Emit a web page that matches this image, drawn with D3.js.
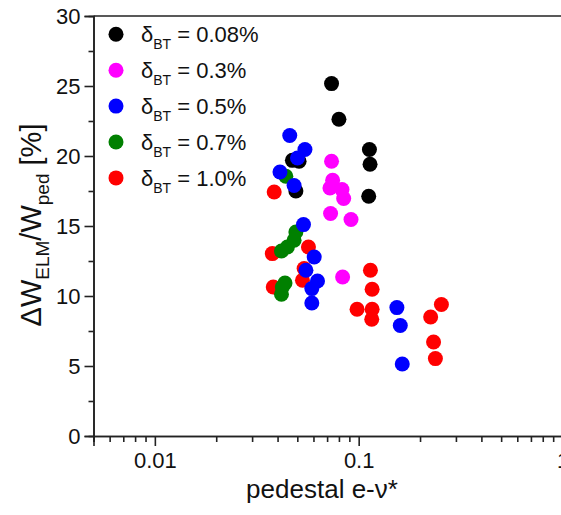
<!DOCTYPE html>
<html>
<head>
<meta charset="utf-8">
<script src="https://cdn.jsdelivr.net/npm/d3@7"></script>
<style>
  html, body { margin: 0; padding: 0; background: #fff; }
  svg { display: block; font-family: "Liberation Sans", Arial, sans-serif; }
</style>
</head>
<body>
<svg id="chart" width="561" height="515"></svg>
<script>
// ---- data ----
const seriesNames = ["0.08%", "0.3%", "0.5%", "0.7%", "1.0%"];
const seriesColors = ["#000000", "#ff00ff", "#0000ff", "#008000", "#ff0000"];

const x008 = [0.0736, 0.080, 0.1129, 0.1137, 0.112, 0.0473, 0.051, 0.0492];
const y008 = [25.17, 22.62, 20.46, 19.41, 17.12, 19.69, 19.62, 17.5];

const x03 = [0.0736, 0.0745, 0.0723, 0.0828, 0.0844, 0.0728, 0.0917, 0.0834];
const y03 = [19.62, 18.26, 17.71, 17.6, 16.96, 15.89, 15.46, 11.36];

const x05 = [0.0459, 0.0545, 0.0501, 0.0411, 0.0482, 0.0536, 0.0605, 0.0551, 0.0628, 0.0589, 0.0589, 0.154, 0.160, 0.1636];
const y05 = [21.46, 20.46, 19.86, 18.86, 17.89, 15.1, 12.79, 11.84, 11.07, 10.53, 9.5, 9.17, 7.89, 5.14];

const x07 = [0.0439, 0.0492, 0.0482, 0.0447, 0.0418, 0.0435, 0.0422, 0.0418];
const y07 = [18.55, 14.57, 13.98, 13.5, 13.21, 10.93, 10.64, 10.12];

const x10 = [0.0385, 0.0377, 0.0567, 0.054, 0.053, 0.0381, 0.1142, 0.1164, 0.2546, 0.2255, 0.233, 0.2379, 0.0982, 0.1164, 0.1159];
const y10 = [17.43, 13.03, 13.5, 11.96, 11.12, 10.64, 11.84, 10.48, 9.39, 8.5, 6.71, 5.53, 9.05, 9.05, 8.34];

const xMajorTicks = [0.01, 0.1, 1];
const xTickLabels = ["0.01", "0.1", "1"];
const yMajorTicks = [0, 5, 10, 15, 20, 25, 30];

const seriesX = [x008, x03, x05, x07, x10];
const seriesY = [y008, y03, y05, y07, y10];
// drawing order (bottom to top)
const drawOrder = [4, 3, 1, 0, 2];

// ---- layout ----
const svg = d3.select("#chart");
const mLeft = 93.5, mRight = 562.5, mTop = 16, mBottom = 436;
const x = d3.scaleLog().domain([0.005, 1]).range([mLeft, mRight]);
const y = d3.scaleLinear().domain([0, 30]).range([mBottom, mTop]);
const axisColor = "#222";

// minor x ticks
const xMinor = [];
[0.001, 0.01, 0.1].forEach(d => { for (let k = 2; k <= 9; k++) { const v = d * k; if (v >= 0.005 && v < 1) xMinor.push(v); } });
const yMinor = d3.range(2.5, 30, 5);

// x axis
const gx = svg.append("g").attr("transform", `translate(0,${mBottom})`);
gx.call(d3.axisBottom(x).tickValues(xMinor).tickSize(6).tickFormat(""));
gx.append("g").call(d3.axisBottom(x).tickValues(xMajorTicks).tickSize(10).tickPadding(6)
  .tickFormat((d, i) => xTickLabels[i]));
gx.selectAll(".domain").attr("stroke", axisColor).attr("stroke-width", 1.6);
gx.selectAll(".tick line").attr("stroke", axisColor).attr("stroke-width", 1.6);
gx.selectAll(".tick text").attr("font-size", 22).attr("fill", "#111")
  .attr("font-family", "Liberation Sans, Arial, sans-serif");

// y axis
const gy = svg.append("g").attr("transform", `translate(${mLeft},0)`);
gy.call(d3.axisLeft(y).tickValues(yMinor).tickSize(5).tickFormat(""));
gy.append("g").call(d3.axisLeft(y).tickValues(yMajorTicks).tickSize(9).tickPadding(4).tickFormat(d3.format("d")));
gy.selectAll(".domain").attr("stroke", axisColor).attr("stroke-width", 1.6);
gy.selectAll(".tick line").attr("stroke", axisColor).attr("stroke-width", 1.6);
gy.selectAll(".tick text").attr("font-size", 22).attr("fill", "#111")
  .attr("font-family", "Liberation Sans, Arial, sans-serif");

// top spine
svg.append("line").attr("x1", mLeft).attr("x2", mRight).attr("y1", mTop).attr("y2", mTop)
  .attr("stroke", axisColor).attr("stroke-width", 1.6);

// points
drawOrder.forEach(si => {
  const pts = seriesX[si].map((v, i) => [v, seriesY[si][i]]);
  svg.append("g").selectAll("circle").data(pts).join("circle")
    .attr("cx", d => x(d[0])).attr("cy", d => y(d[1])).attr("r", 7.5)
    .attr("fill", seriesColors[si]);
});

// legend
const lg = svg.append("g");
seriesNames.forEach((name, i) => {
  const cy = 34.3 + i * 35.9;
  lg.append("circle").attr("cx", 116).attr("cy", cy).attr("r", 7.5).attr("fill", seriesColors[i]);
  const t = lg.append("text").attr("x", 141).attr("y", cy + 8).attr("font-size", 22).attr("fill", "#111");
  t.append("tspan").text("δ");
  t.append("tspan").attr("font-size", 14).attr("dy", 7).text("BT");
  t.append("tspan").attr("dy", -7).text(" = " + name);
});

// axis titles
svg.append("text").attr("x", 322).attr("y", 498).attr("text-anchor", "middle")
  .attr("font-size", 26).attr("fill", "#111").text("pedestal e-ν*");

const yt = svg.append("text").attr("transform", "translate(41,225) rotate(-90)")
  .attr("text-anchor", "middle").attr("font-size", 29).attr("fill", "#111");
yt.append("tspan").text("ΔW");
yt.append("tspan").attr("font-size", 19).attr("dy", 8).text("ELM");
yt.append("tspan").attr("dy", -8).text("/W");
yt.append("tspan").attr("font-size", 19).attr("dy", 8).text("ped");
yt.append("tspan").attr("dy", -8).text(" [%]");
</script>
</body>
</html>
